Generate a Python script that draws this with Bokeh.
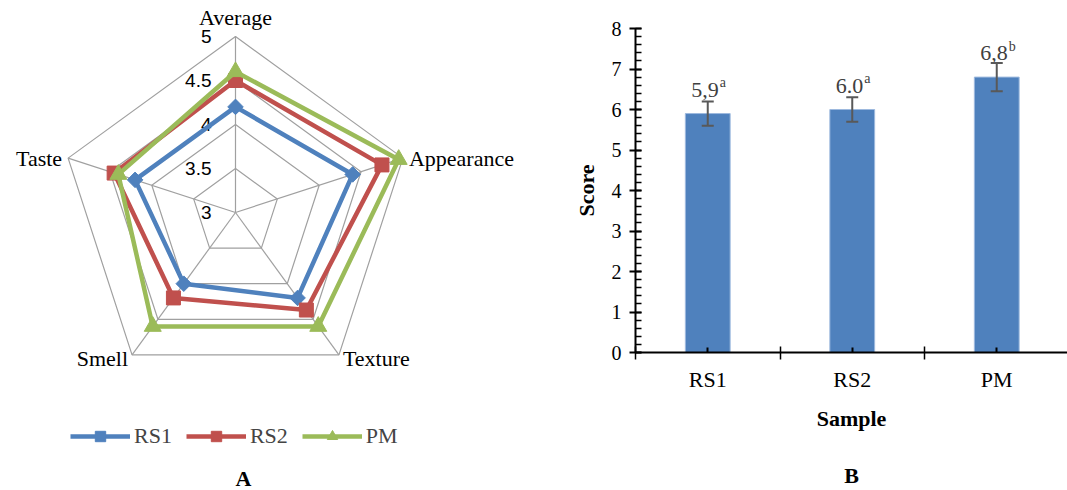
import numpy as np
from bokeh.plotting import figure
from bokeh.models import (Range1d, FixedTicker, Legend, LegendItem, Whisker,
                          ColumnDataSource, TeeHead, LinearAxis)
from bokeh.layouts import row
from bokeh.core.properties import value
from bokeh.embed import file_html
from bokeh.resources import INLINE

# ---------------- data ----------------
# Panel A (radar)
attributes = ["Average", "Appearance", "Texture", "Smell", "Taste"]
rs1 = [4.2, 4.4, 4.2, 4.0, 4.2]
rs2 = [4.5, 4.75, 4.37, 4.2, 4.45]
pm = [4.6, 4.95, 4.6, 4.6, 4.4]
series_names = ["RS1", "RS2", "PM"]
radar_ticks = [3, 3.5, 4, 4.5, 5]

# Panel B (bars)
samples = ["RS1", "RS2", "PM"]
scores = [5.9, 6.0, 6.8]
score_err = [0.3, 0.3, 0.35]
score_text = ["5,9", "6.0", "6,8"]
score_sig = ["a", "a", "b"]
y_ticks = [0, 1, 2, 3, 4, 5, 6, 7, 8]
y_minor_step = 0.2

SERIF = "Liberation Serif"
SANS = "Liberation Sans"
COLORS = ["#4F81BD", "#C0504D", "#9BBB59"]

# ---------------- Panel A: radar ----------------
PX = 88.0                     # pixels per score unit
RW, RH = 540, 490
CX, CY = 235, 212             # centre inside the canvas (px from left / top)
pr = figure(width=RW, height=RH, output_backend="svg", toolbar_location=None,
            x_axis_type=None, y_axis_type=None, title=None,
            x_range=Range1d(-CX / PX, (RW - CX) / PX),
            y_range=Range1d(-(RH - CY) / PX, CY / PX),
            min_border=0, outline_line_color=None, frame_align=False)
pr.grid.visible = False

rmin = radar_ticks[0]
ang = np.deg2rad(90 - 72 * np.arange(len(attributes)))
cosA, sinA = np.cos(ang), np.sin(ang)

# rings
ring_xs, ring_ys = [], []
for t in radar_ticks[1:]:
    r = t - rmin
    ring_xs.append(list(np.append(r * cosA, r * cosA[0])))
    ring_ys.append(list(np.append(r * sinA, r * sinA[0])))
pr.multi_line(ring_xs, ring_ys, line_color="#A0A0A0", line_width=1.2)
rmax = radar_ticks[-1] - rmin
pr.segment(x0=[0] * len(attributes), y0=[0] * len(attributes),
           x1=list(rmax * cosA), y1=list(rmax * sinA),
           line_color="#A0A0A0", line_width=1.2)

# tick labels
pr.text(x=[0] * len(radar_ticks), y=[t - rmin for t in radar_ticks],
        text=[f"{t:g}" for t in radar_ticks], x_offset=-24,
        text_align="right", text_baseline="middle",
        text_font=value(SANS), text_font_size="19px", text_color="#000000")

# category labels
lab_off = [(0, -19, "center"), (6, 0, "left"), (4, 4, "left"),
           (-4, 4, "right"), (-6, 0, "right")]
for i, name in enumerate(attributes):
    dx, dy, al = lab_off[i]
    pr.text(x=[rmax * cosA[i]], y=[rmax * sinA[i]], text=[name],
            x_offset=dx, y_offset=dy, text_align=al, text_baseline="middle",
            text_font=value(SERIF), text_font_size="22px", text_color="#000000")

markers = [("square", 11, np.pi / 4), ("square", 14, 0), ("triangle", 17, 0)]
items = []
for name, vals, col, (mk, ms, ma) in zip(series_names, [rs1, rs2, pm], COLORS, markers):
    r = np.array(vals) - rmin
    xs = list(np.append(r * cosA, r[0] * cosA[0]))
    ys = list(np.append(r * sinA, r[0] * sinA[0]))
    lr = pr.line(xs, ys, line_color=col, line_width=4.5)
    sr = pr.scatter(list(r * cosA), list(r * sinA), marker=mk, size=ms, angle=ma,
                    fill_color=col, line_color=col)
    items.append(LegendItem(label=name, renderers=[lr, sr]))

legend = Legend(items=items, orientation="horizontal", location=(70, 41),
                glyph_width=60, glyph_height=26, label_height=26, label_standoff=4,
                spacing=14, padding=0, margin=0, border_line_color=None,
                background_fill_alpha=0, label_text_font=SERIF,
                label_text_font_size="22px")
pr.add_layout(legend)

pr.text(x=[0], y=[-(478 - CY) / PX], text=["A"], x_offset=8,
        text_align="center", text_baseline="middle", text_font=value(SERIF),
        text_font_size="22px", text_font_style="bold", text_color="#000000")

# ---------------- Panel B: bars ----------------
BW, BH = 527, 490
CAT_PX = 144.5
frame_w = BW - 95
xs_cat = list(range(1, len(samples) + 1))
pb = figure(width=BW, height=BH, output_backend="svg", toolbar_location=None,
            x_range=Range1d(0.5, 0.5 + frame_w / CAT_PX),
            y_range=Range1d(y_ticks[0], y_ticks[-1]),
            min_border_left=95, min_border_right=0, min_border_top=28,
            min_border_bottom=137, outline_line_color=None, frame_align=False)
pb.grid.visible = False

pb.vbar(x=xs_cat, top=scores, width=0.31, fill_color="#4F81BD",
        line_color="#9DB9DE", line_width=1)

src = ColumnDataSource(dict(x=xs_cat,
                            upper=[s + e for s, e in zip(scores, score_err)],
                            lower=[s - e for s, e in zip(scores, score_err)],
                            top=scores, lab=score_text, sig=score_sig))
pb.add_layout(Whisker(source=src, base="x", upper="upper", lower="lower",
                      level="overlay", line_color="#595959", line_width=2,
                      upper_head=TeeHead(size=12, line_color="#595959", line_width=2),
                      lower_head=TeeHead(size=12, line_color="#595959", line_width=2)))

pb.text(x="x", y="top", text="lab", source=src, x_offset=11, y_offset=-24,
        text_align="right", text_baseline="alphabetic", text_font=value(SERIF),
        text_font_size="22px", text_color="#404040")
pb.text(x="x", y="top", text="sig", source=src, x_offset=12, y_offset=-31,
        text_align="left", text_baseline="alphabetic", text_font=value(SERIF),
        text_font_size="14px", text_color="#404040")

xa = pb.xaxis[0]
xa.ticker = FixedTicker(ticks=xs_cat, minor_ticks=[x - 0.5 for x in xs_cat] + [xs_cat[-1] + 0.5])
xa.major_label_overrides = {x: s for x, s in zip(xs_cat, samples)}
xa.major_tick_in = 5
xa.major_tick_out = 0
xa.minor_tick_in = 6
xa.minor_tick_out = 7
xa.major_label_standoff = 7
xa.axis_label = "Sample"
xa.axis_label_standoff = 11

n_minor = int(round((y_ticks[-1] - y_ticks[0]) / y_minor_step))
ya = pb.yaxis[0]
ya.ticker = FixedTicker(ticks=y_ticks,
                        minor_ticks=[round(y_ticks[0] + k * y_minor_step, 6) for k in range(n_minor + 1)])
ya.major_tick_in = 6
ya.major_tick_out = 6
ya.minor_tick_in = 6
ya.minor_tick_out = 0
ya.major_label_standoff = 8
ya.axis_label = "Score"
ya.axis_label_standoff = 10

for ax in (xa, ya):
    ax.axis_line_color = "#000000"
    ax.axis_line_width = 2
    ax.major_tick_line_color = "#000000"
    ax.major_tick_line_width = 2
    ax.minor_tick_line_color = "#000000"
    ax.minor_tick_line_width = 1.5
    ax.major_label_text_font = SERIF
    ax.major_label_text_color = "#000000"
    ax.axis_label_text_font = SERIF
    ax.axis_label_text_font_size = "22px"
    ax.axis_label_text_font_style = "bold"
    ax.axis_label_text_color = "#000000"
xa.major_label_text_font_size = "22px"
ya.major_label_text_font_size = "20px"

# panel caption "B" below the x axis
cap = LinearAxis(ticker=FixedTicker(ticks=[], minor_ticks=[]), axis_line_color=None,
                 major_tick_out=0, major_tick_in=0, minor_tick_out=0, minor_tick_in=0,
                 major_label_standoff=0, axis_label="B", axis_label_standoff=29,
                 axis_label_text_font=SERIF, axis_label_text_font_size="22px",
                 axis_label_text_font_style="bold", axis_label_text_color="#000000")
pb.add_layout(cap, "below")

layout = row(pr, pb)
open("out.html", "w").write(file_html(layout, INLINE))
